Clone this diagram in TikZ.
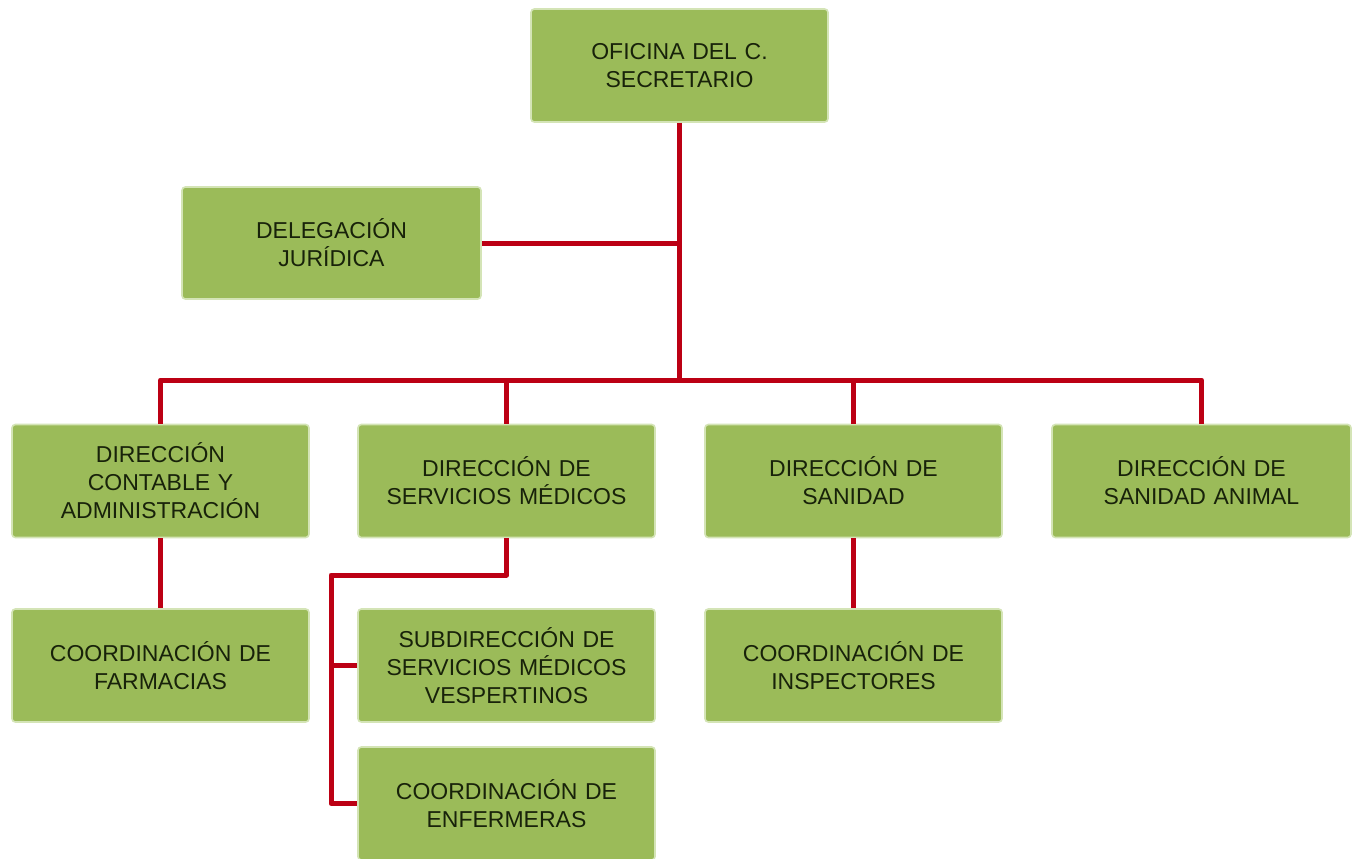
\documentclass[tikz,border=0pt]{standalone}
\usepackage{fontspec}
\setmainfont{Liberation Sans}
\definecolor{boxgreen}{RGB}{155,187,89}
\definecolor{boxedge}{RGB}{212,228,182}
\definecolor{linkred}{RGB}{188,0,20}
\definecolor{inkgreen}{RGB}{24,34,10}
\begin{document}
\begin{tikzpicture}[x=0.75pt,y=-0.75pt,
  unit/.style={draw=boxedge, line width=1.2pt, fill=boxgreen, rounded corners=2.5pt,
    minimum width=222.75pt, minimum height=84.75pt, inner sep=0pt,
    align=center, text width=220pt, text=inkgreen,
    font=\fontsize{17.25}{21}\selectfont},
  link/.style={draw=linkred, line width=3.75pt, line join=round}]
\clip (0,0) rectangle (1356,858);
\fill[white] (0,0) rectangle (1356,858);

% top office and legal delegation
\node[unit] (ofi) at (679.5,65.5) {OFICINA DEL C.\\SECRETARIO};
\node[unit, minimum width=224.25pt, minimum height=84pt] (del) at (331.5,243) {DELEGACIÓN\\JURÍDICA};

% directorates
\node[unit] (d1) at (160.5,481) {DIRECCIÓN\\CONTABLE Y\\ADMINISTRACIÓN};
\node[unit] (d2) at (506.5,481) {DIRECCIÓN DE\\SERVICIOS MÉDICOS};
\node[unit] (d3) at (853.5,481) {DIRECCIÓN DE\\SANIDAD};
\node[unit, minimum width=224.25pt] (d4) at (1201.5,481) {DIRECCIÓN DE\\SANIDAD ANIMAL};

% lower units
\node[unit] (c1) at (160.5,665.5) {COORDINACIÓN DE\\FARMACIAS};
\node[unit] (sub) at (506.5,665.5) {SUBDIRECCIÓN DE\\SERVICIOS MÉDICOS\\VESPERTINOS};
\node[unit] (c3) at (853.5,665.5) {COORDINACIÓN DE\\INSPECTORES};
\node[unit] (enf) at (506.5,803.5) {COORDINACIÓN DE\\ENFERMERAS};

% bus and branch points
\coordinate (bus) at (679.5,380);
\coordinate (elbowA) at (506.5,575);
\coordinate (elbowB) at (331,575);

% connectors
\draw[link] (ofi.south) -- (bus);
\draw[link] (del.east) -- (ofi.south |- del.east);
\draw[link] (d1.north) -- (d1.north |- bus) -- (d4.north |- bus) -- (d4.north);
\draw[link] (d2.north |- bus) -- (d2.north);
\draw[link] (d3.north |- bus) -- (d3.north);
\draw[link] (d1.south) -- (c1.north);
\draw[link] (d3.south) -- (c3.north);
\draw[link] (d2.south) -- (elbowA) -- (elbowB) -- (elbowB |- enf.west) -- (enf.west);
\draw[link] (elbowB |- sub.west) -- (sub.west);
\end{tikzpicture}
\end{document}
